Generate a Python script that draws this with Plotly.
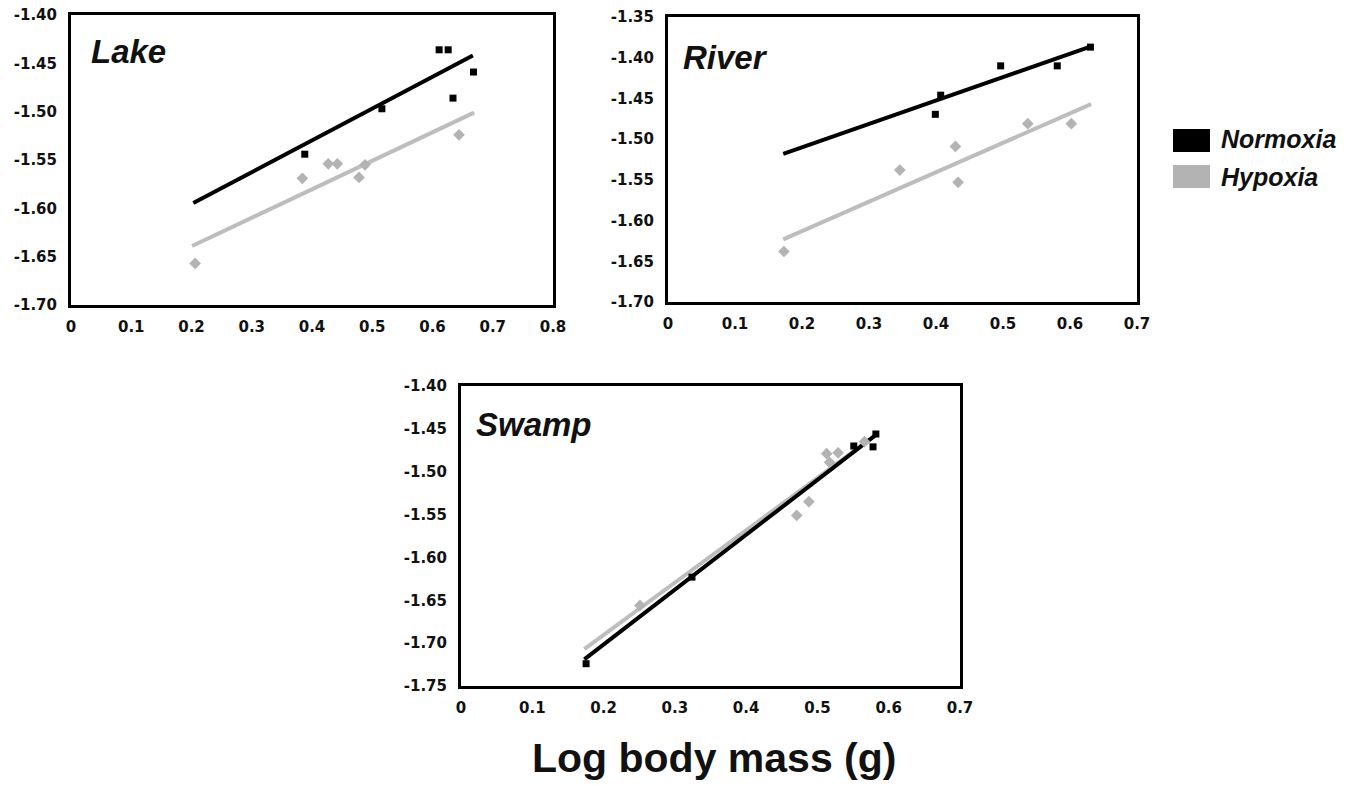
import plotly.graph_objects as go

# ---------------- data ----------------
# Lake
lake_norm_x = [0.388, 0.516, 0.611, 0.626, 0.634, 0.668]
lake_norm_y = [-1.544, -1.497, -1.436, -1.436, -1.486, -1.459]
lake_hyp_x = [0.206, 0.384, 0.427, 0.442, 0.478, 0.488, 0.644]
lake_hyp_y = [-1.657, -1.569, -1.554, -1.554, -1.568, -1.555, -1.524]
lake_norm_fit_x = [0.203, 0.667]
lake_norm_fit_y = [-1.5945, -1.442]
lake_hyp_fit_x = [0.201, 0.669]
lake_hyp_fit_y = [-1.639, -1.501]

# River
river_norm_x = [0.399, 0.407, 0.4965, 0.581, 0.6305]
river_norm_y = [-1.4695, -1.446, -1.410, -1.410, -1.387]
river_hyp_x = [0.173, 0.346, 0.429, 0.433, 0.537, 0.602]
river_hyp_y = [-1.638, -1.538, -1.509, -1.553, -1.481, -1.481]
river_norm_fit_x = [0.172, 0.6315]
river_norm_fit_y = [-1.518, -1.386]
river_hyp_fit_x = [0.172, 0.6315]
river_hyp_fit_y = [-1.623, -1.457]

# Swamp
swamp_norm_x = [0.1755, 0.324, 0.551, 0.578, 0.582]
swamp_norm_y = [-1.724, -1.623, -1.470, -1.471, -1.456]
swamp_hyp_x = [0.251, 0.471, 0.488, 0.513, 0.517, 0.529, 0.566]
swamp_hyp_y = [-1.656, -1.551, -1.535, -1.479, -1.489, -1.478, -1.465]
swamp_norm_fit_x = [0.173, 0.582]
swamp_norm_fit_y = [-1.719, -1.457]
swamp_hyp_fit_x = [0.173, 0.574]
swamp_hyp_fit_y = [-1.707, -1.462]

# tick labels
lake_xticks = [0, 0.1, 0.2, 0.3, 0.4, 0.5, 0.6, 0.7, 0.8]
lake_xtext = ["0", "0.1", "0.2", "0.3", "0.4", "0.5", "0.6", "0.7", "0.8"]
other_xticks = [0, 0.1, 0.2, 0.3, 0.4, 0.5, 0.6, 0.7]
other_xtext = ["0", "0.1", "0.2", "0.3", "0.4", "0.5", "0.6", "0.7"]
lake_yticks = [-1.70, -1.65, -1.60, -1.55, -1.50, -1.45, -1.40]
lake_ytext = ["-1.70", "-1.65", "-1.60", "-1.55", "-1.50", "-1.45", "-1.40"]
river_yticks = [-1.70, -1.65, -1.60, -1.55, -1.50, -1.45, -1.40, -1.35]
river_ytext = ["-1.70", "-1.65", "-1.60", "-1.55", "-1.50", "-1.45", "-1.40", "-1.35"]
swamp_yticks = [-1.75, -1.70, -1.65, -1.60, -1.55, -1.50, -1.45, -1.40]
swamp_ytext = ["-1.75", "-1.70", "-1.65", "-1.60", "-1.55", "-1.50", "-1.45", "-1.40"]

panel_names = ["Lake", "River", "Swamp"]
series_names = ["Normoxia", "Hypoxia"]
x_title = "Log body mass (g)"

# ---------------- styling ----------------
W, H = 1359, 785
BLACK = "#000000"
GREY_LINE = "#bdbdbd"
GREY_MARK = "#b3b3b3"
TICKFONT = dict(family="DejaVu Sans", size=15, color="#111111", weight="bold")


def px_x(p):
    return p / W


def px_y(p):
    return 1 - p / H


fig = go.Figure()

panels = [
    dict(xa="x", ya="y", nx=lake_norm_x, ny=lake_norm_y, hx=lake_hyp_x, hy=lake_hyp_y,
         nfx=lake_norm_fit_x, nfy=lake_norm_fit_y, hfx=lake_hyp_fit_x, hfy=lake_hyp_fit_y),
    dict(xa="x2", ya="y2", nx=river_norm_x, ny=river_norm_y, hx=river_hyp_x, hy=river_hyp_y,
         nfx=river_norm_fit_x, nfy=river_norm_fit_y, hfx=river_hyp_fit_x, hfy=river_hyp_fit_y),
    dict(xa="x3", ya="y3", nx=swamp_norm_x, ny=swamp_norm_y, hx=swamp_hyp_x, hy=swamp_hyp_y,
         nfx=swamp_norm_fit_x, nfy=swamp_norm_fit_y, hfx=swamp_hyp_fit_x, hfy=swamp_hyp_fit_y),
]

for p in panels:
    fig.add_trace(go.Scatter(x=p["hfx"], y=p["hfy"], mode="lines", xaxis=p["xa"], yaxis=p["ya"],
                             line=dict(color=GREY_LINE, width=4), showlegend=False, name=series_names[1]))
    fig.add_trace(go.Scatter(x=p["nfx"], y=p["nfy"], mode="lines", xaxis=p["xa"], yaxis=p["ya"],
                             line=dict(color=BLACK, width=4), showlegend=False, name=series_names[0]))
    fig.add_trace(go.Scatter(x=p["hx"], y=p["hy"], mode="markers", xaxis=p["xa"], yaxis=p["ya"],
                             marker=dict(symbol="diamond", size=9, color=GREY_MARK, line=dict(width=0)),
                             showlegend=False, name=series_names[1]))
    fig.add_trace(go.Scatter(x=p["nx"], y=p["ny"], mode="markers", xaxis=p["xa"], yaxis=p["ya"],
                             marker=dict(symbol="square", size=7, color=BLACK, line=dict(width=0)),
                             showlegend=False, name=series_names[0]))


def xaxis(domain, rng, tv, tt, anchor):
    return dict(domain=domain, range=rng, anchor=anchor, tickvals=tv, ticktext=tt,
                showline=True, mirror=True, linecolor=BLACK, linewidth=3,
                showgrid=False, zeroline=False, ticks="", tickfont=TICKFONT,
                ticklabelstandoff=6, fixedrange=True, automargin=False)


def yaxis(domain, rng, tv, tt, anchor):
    return dict(domain=domain, range=rng, anchor=anchor, tickvals=tv, ticktext=tt,
                showline=True, mirror=True, linecolor=BLACK, linewidth=3,
                showgrid=False, zeroline=False, ticks="", tickfont=TICKFONT,
                ticklabelstandoff=8, fixedrange=True, automargin=False)


fig.update_layout(
    width=W, height=H,
    margin=dict(l=0, r=0, t=0, b=0),
    paper_bgcolor="white", plot_bgcolor="white",
    showlegend=False,
    xaxis=xaxis([px_x(71), px_x(553)], [0, 0.8], lake_xticks, lake_xtext, "y"),
    yaxis=yaxis([px_y(305), px_y(15)], [-1.70, -1.40], lake_yticks, lake_ytext, "x"),
    xaxis2=xaxis([px_x(668), px_x(1137)], [0, 0.7], other_xticks, other_xtext, "y2"),
    yaxis2=yaxis([px_y(302), px_y(17)], [-1.70, -1.35], river_yticks, river_ytext, "x2"),
    xaxis3=xaxis([px_x(461), px_x(960)], [0, 0.7], other_xticks, other_xtext, "y3"),
    yaxis3=yaxis([px_y(686), px_y(386)], [-1.75, -1.40], swamp_yticks, swamp_ytext, "x3"),
)

title_font = dict(family="Liberation Sans", size=33, color="#111111", weight="bold", style="italic")
for name, xp, yp in zip(panel_names, [89, 681, 474], [52, 58, 424]):
    fig.add_annotation(x=px_x(xp), y=px_y(yp), xref="paper", yref="paper", text=name,
                       showarrow=False, xanchor="left", yanchor="middle", font=title_font)

# legend swatches + labels
leg_font = dict(family="Liberation Sans", size=25, color="#111111", weight="bold", style="italic")
for name, col, y0, y1, ty in zip(series_names, [BLACK, GREY_MARK], [129, 165], [152, 188], [139, 177]):
    fig.add_shape(type="rect", xref="paper", yref="paper", x0=px_x(1173), x1=px_x(1210),
                  y0=px_y(y1), y1=px_y(y0), fillcolor=col, line=dict(width=0))
    fig.add_annotation(x=px_x(1219), y=px_y(ty), xref="paper", yref="paper", text=name,
                       showarrow=False, xanchor="left", yanchor="middle", font=leg_font)

fig.add_annotation(x=px_x(714), y=px_y(758), xref="paper", yref="paper", text=x_title,
                   showarrow=False, xanchor="center", yanchor="middle",
                   font=dict(family="Liberation Sans", size=41, color="#111111", weight="bold"))

fig.write_html("out.html", config={"displayModeBar": False},
               post_script="document.body.style.margin='0';document.body.style.overflow='hidden';")
